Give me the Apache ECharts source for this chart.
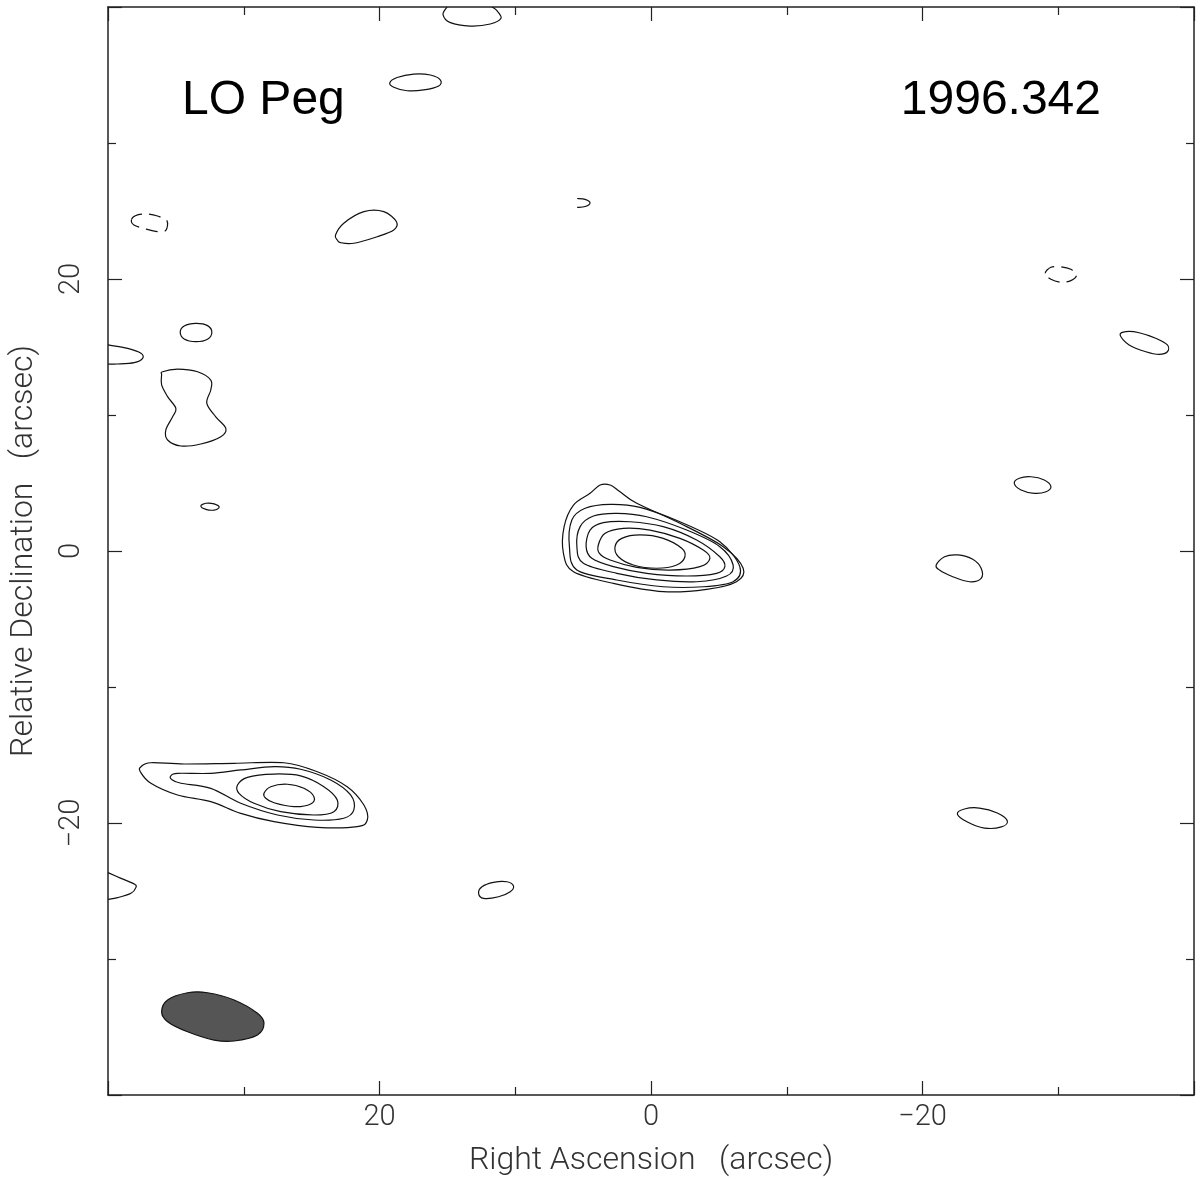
<!DOCTYPE html>
<html>
<head>
<meta charset="utf-8">
<title>LO Peg 1996.342</title>
<script src="https://cdn.jsdelivr.net/npm/echarts@6/dist/echarts.min.js"></script>
<style>
  html, body { margin: 0; padding: 0; background: #fff; }
  #chart { width: 1200px; height: 1182px; }
</style>
</head>
<body>
<div id="chart"></div>
<script>
// 坐标范围和刻度 (arcsec)
const axisMin = -40
const axisMax = 40
const tickStep = 20

// 主源 LO Peg 的等值线 [RA, Dec]，由外到内
const mainC1 = [[6.45,-0.17],[6.40,1.79],[5.71,3.38],[4.49,4.24],[3.75,4.85],[3.01,4.85],[2.28,4.36],[1.05,3.51],[-2.13,2.04],[-5.32,0.32],[-6.79,-1.27],[-6.30,-2.26],[-4.10,-2.82],[-0.90,-2.99],[2.77,-2.38],[5.71,-1.52]]
const mainC2 = [[6.01,0.32],[5.83,2.28],[4.85,3.14],[3.01,3.43],[0.81,3.21],[-2.13,2.15],[-5.07,0.68],[-6.54,-1.15],[-6.05,-2.26],[-3.85,-2.63],[-0.90,-2.63],[2.52,-2.13],[5.46,-1.40]]
const mainC3 = [[5.46,0.32],[5.22,1.79],[4.24,2.57],[2.52,2.77],[0.32,2.52],[-2.63,1.54],[-5.07,0.32],[-6.05,-1.03],[-5.57,-1.84],[-3.36,-2.26],[-0.42,-2.13],[2.52,-1.64],[4.98,-0.90]]
const mainC4 = [[4.78,0.32],[4.49,1.54],[3.51,2.08],[1.54,2.15],[-0.90,1.79],[-3.36,0.81],[-5.07,-0.42],[-5.44,-1.15],[-4.83,-1.64],[-2.63,-1.84],[0.32,-1.64],[2.77,-1.15],[4.36,-0.54]]
const mainC5 = [[3.88,0.44],[3.38,1.30],[2.04,1.67],[0.07,1.54],[-2.13,0.93],[-3.85,0.07],[-4.34,-0.54],[-3.60,-1.15],[-1.40,-1.40],[1.05,-1.20],[3.01,-0.66],[3.80,-0.17]]
const mainC6 = [[2.65,0.32],[2.15,0.93],[0.81,1.18],[-0.90,0.93],[-2.26,0.20],[-2.50,-0.42],[-1.89,-1.03],[-0.42,-1.27],[1.30,-1.03],[2.40,-0.42]]

// 左下的第二个源
const srcB1 = [[37.57,-15.86],[36.84,-15.57],[34.39,-15.66],[30.71,-15.61],[27.04,-15.57],[24.58,-16.23],[22.38,-17.33],[21.15,-18.68],[20.90,-19.78],[21.64,-20.27],[24.58,-20.32],[27.77,-19.90],[30.22,-19.29],[32.43,-18.43],[34.88,-17.94],[36.84,-17.08],[37.62,-16.23]]
const srcB2 = [[35.37,-16.54],[34.88,-16.35],[32.43,-16.35],[30.22,-16.10],[27.77,-15.86],[25.81,-16.05],[23.60,-16.84],[22.13,-17.94],[21.89,-19.04],[22.63,-19.65],[24.83,-19.78],[27.52,-19.41],[30.22,-18.55],[32.43,-17.45],[34.63,-17.08],[35.32,-16.79]]
const srcB3 = [[30.46,-17.21],[29.73,-16.64],[27.77,-16.40],[25.81,-16.54],[24.10,-17.33],[23.11,-18.31],[23.36,-19.17],[24.83,-19.41],[27.28,-19.17],[29.24,-18.55],[30.35,-17.82]]
const srcB4 = [[28.51,-17.82],[28.01,-17.33],[26.79,-17.15],[25.57,-17.45],[24.83,-18.07],[25.07,-18.60],[26.30,-18.80],[27.77,-18.51],[28.38,-18.18]]

// 噪声等值线（闭合）
const blobNE = [[23.11,22.87],[23.24,23.24],[22.63,24.10],[21.15,24.95],[19.68,24.95],[18.75,24.21],[18.95,23.60],[20.17,23.11],[21.89,22.63],[22.87,22.67]]
const blobTop = [[19.24,34.43],[18.70,34.82],[17.48,35.07],[16.25,35.00],[15.51,34.63],[15.64,34.19],[16.74,33.90],[17.96,33.84],[18.95,34.10]]
const blobL1 = [[34.68,16.08],[34.39,16.54],[33.53,16.74],[32.67,16.57],[32.35,16.08],[32.67,15.57],[33.53,15.39],[34.39,15.59]]
const blobHour = [[35.98,13.18],[34.88,13.38],[33.40,13.18],[32.43,12.57],[32.43,11.84],[32.72,10.86],[32.06,9.87],[31.32,9.02],[31.69,8.40],[33.16,7.87],[34.63,7.72],[35.61,8.16],[35.74,8.90],[35.24,9.87],[35.00,10.49],[35.61,11.35],[36.05,12.21],[36.05,12.94]]
const blobTiny = [[33.16,3.31],[32.79,3.51],[32.18,3.46],[31.81,3.21],[32.18,3.01],[32.79,3.06]]
const blobS = [[12.70,-25.17],[12.45,-24.68],[11.60,-24.36],[10.61,-24.32],[10.13,-24.63],[10.37,-25.05],[11.23,-25.42],[12.33,-25.54]]
const blobR1 = [[-34.56,15.88],[-34.98,16.13],[-35.96,16.05],[-37.18,15.64],[-38.04,15.15],[-38.04,14.65],[-37.43,14.46],[-36.45,14.65],[-35.22,15.15]]
const blobR2 = [[-26.76,4.98],[-27.13,5.35],[-27.99,5.46],[-28.97,5.22],[-29.46,4.73],[-29.10,4.36],[-28.24,4.24],[-27.26,4.49]]
const blobR3 = [[-21.01,-1.03],[-21.62,-0.42],[-22.60,-0.29],[-23.70,-0.61],[-24.32,-1.27],[-24.32,-2.01],[-23.46,-2.26],[-22.23,-1.89],[-21.25,-1.40]]
const blobR4 = [[-22.57,-19.34],[-23.09,-18.97],[-24.19,-18.90],[-25.51,-19.26],[-26.25,-19.85],[-25.81,-20.29],[-24.56,-20.37],[-23.31,-19.93]]

// 边缘处被截断的等值线（开放）
const edgeTop = [[15.02,40.0],[15.32,39.44],[14.78,38.85],[13.31,38.60],[11.84,38.75],[11.05,39.17],[11.35,39.73],[11.71,40.0]]
const edgeLeft = [[40.0,15.15],[38.55,14.90],[37.57,14.54],[37.45,14.17],[38.07,13.85],[39.29,13.75],[40.0,13.75]]
const edgeLow = [[40.0,-23.65],[39.04,-24.07],[38.07,-24.49],[37.94,-24.73],[38.31,-25.17],[39.29,-25.49],[40.0,-25.61]]
const hookU = [[5.44,25.92],[4.85,25.85],[4.49,25.59],[4.85,25.33],[5.44,25.26]]

// 负等值线（虚线）
const negNW = [[38.26,24.39],[37.82,24.71],[37.08,24.78],[36.35,24.63],[35.66,24.29],[35.74,23.57],[36.35,23.49],[37.21,23.68],[38.09,23.97]]
const negE = [[-29.04,20.42],[-29.46,20.86],[-30.20,20.90],[-30.93,20.71],[-31.35,20.29],[-30.93,19.88],[-30.20,19.76],[-29.46,19.98]]

// 波束
const beam = [[36.05,-33.88],[35.61,-33.01],[34.14,-32.48],[32.67,-32.48],[30.71,-33.01],[28.99,-33.99],[28.51,-34.73],[28.99,-35.59],[30.71,-36.03],[32.18,-35.96],[34.14,-35.35],[35.61,-34.61]]

const objName = 'LO Peg'
const epoch = '1996.342'

// kind: line 闭合实线, open 开放实线, neg 负值虚线, beam 填充
const contours = [
  { pts: mainC1, kind: 'line' }, { pts: mainC2, kind: 'line' }, { pts: mainC3, kind: 'line' },
  { pts: mainC4, kind: 'line' }, { pts: mainC5, kind: 'line' }, { pts: mainC6, kind: 'line' },
  { pts: srcB1, kind: 'line' }, { pts: srcB2, kind: 'line' }, { pts: srcB3, kind: 'line' }, { pts: srcB4, kind: 'line' },
  { pts: blobNE, kind: 'line' }, { pts: blobTop, kind: 'line' }, { pts: blobL1, kind: 'line' },
  { pts: blobHour, kind: 'line' }, { pts: blobTiny, kind: 'line' }, { pts: blobS, kind: 'line' },
  { pts: blobR1, kind: 'line' }, { pts: blobR2, kind: 'line' }, { pts: blobR3, kind: 'line' }, { pts: blobR4, kind: 'line' },
  { pts: edgeTop, kind: 'open' }, { pts: edgeLeft, kind: 'open' }, { pts: edgeLow, kind: 'open' }, { pts: hookU, kind: 'open' },
  { pts: negNW, kind: 'neg' }, { pts: negE, kind: 'neg' },
  { pts: beam, kind: 'beam' }
]

const labelFont = 'Roboto'
const minus = v => (v < 0 ? '\u2212' + Math.abs(v) : String(v))

// Catmull-Rom 曲线 -> SVG path（像素坐标）
function smoothPath(p, closed) {
  const n = p.length
  const at = i => closed ? p[(i + n) % n] : p[Math.max(0, Math.min(n - 1, i))]
  let d = 'M' + p[0][0] + ' ' + p[0][1]
  const last = closed ? n : n - 1
  for (let i = 0; i < last; i++) {
    const p0 = at(i - 1), p1 = at(i), p2 = at(i + 1), p3 = at(i + 2)
    const c1x = p1[0] + (p2[0] - p0[0]) / 6, c1y = p1[1] + (p2[1] - p0[1]) / 6
    const c2x = p2[0] - (p3[0] - p1[0]) / 6, c2y = p2[1] - (p3[1] - p1[1]) / 6
    d += 'C' + c1x + ' ' + c1y + ' ' + c2x + ' ' + c2y + ' ' + p2[0] + ' ' + p2[1]
  }
  return closed ? d + 'Z' : d
}

function axisCommon(showLabel) {
  return {
    type: 'value',
    min: axisMin,
    max: axisMax,
    interval: tickStep,
    axisLine: { show: true, onZero: false, lineStyle: { color: '#222', width: 1.5 } },
    axisTick: { show: true, inside: true, length: 14, lineStyle: { color: '#222', width: 1.2 } },
    minorTick: { show: true, splitNumber: 2, length: 8, lineStyle: { color: '#222', width: 1.2 } },
    splitLine: { show: false },
    axisLabel: {
      show: showLabel,
      formatter: minus,
      fontFamily: labelFont,
      fontWeight: 300,
      fontSize: 29,
      color: '#333',
      showMinLabel: false,
      showMaxLabel: false
    }
  }
}

let chart = echarts.init(document.getElementById('chart'))

chart.setOption({
  animation: false,
  backgroundColor: '#fff',
  title: [
    { text: objName, left: 177, top: 72, textStyle: { fontFamily: 'Liberation Sans', fontWeight: 'normal', fontSize: 48, color: '#000' } },
    { text: epoch, right: 94, top: 72, textStyle: { fontFamily: 'Liberation Sans', fontWeight: 'normal', fontSize: 48, color: '#000' } }
  ],
  grid: { left: 106, top: 7, width: 1088, height: 1088 },
  xAxis: [
    Object.assign(axisCommon(true), {
      position: 'bottom', inverse: true,
      name: 'Right Ascension   (arcsec)', nameLocation: 'middle', nameGap: 50,
      nameTextStyle: { fontFamily: labelFont, fontWeight: 300, fontSize: 32, color: '#333' }
    }),
    Object.assign(axisCommon(false), { position: 'top', inverse: true })
  ],
  yAxis: [
    Object.assign(axisCommon(true), {
      position: 'left',
      name: 'Relative Declination   (arcsec)', nameLocation: 'middle', nameGap: 68,
      nameTextStyle: { fontFamily: labelFont, fontWeight: 300, fontSize: 32, color: '#333' }
    }),
    Object.assign(axisCommon(false), { position: 'right' })
  ],
  series: [{
    type: 'custom',
    coordinateSystem: 'cartesian2d',
    xAxisIndex: 0,
    yAxisIndex: 0,
    clip: true,
    encode: { x: 0, y: 1 },
    data: contours.map((c, i) => [c.pts[0][0], c.pts[0][1], i]),
    renderItem(params, api) {
      const c = contours[api.value(2)]
      const points = c.pts.map(p => api.coord(p))
      const isBeam = c.kind === 'beam'
      return {
        type: 'path',
        shape: { pathData: smoothPath(points, c.kind !== 'open') },
        style: {
          fill: isBeam ? '#555' : 'none',
          stroke: '#111',
          lineWidth: 1.2,
          lineDash: c.kind === 'neg' ? [12, 7] : null
        }
      }
    }
  }]
})

// 纵轴刻度标签竖排
chart.setOption({ yAxis: [{ axisLabel: { rotate: 90, margin: 22 } }] })
</script>
</body>
</html>
